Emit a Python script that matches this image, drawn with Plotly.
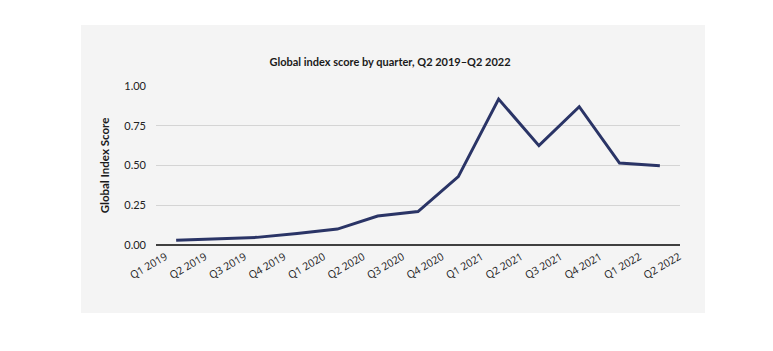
import plotly.graph_objects as go

quarters = ["Q1 2019", "Q2 2019", "Q3 2019", "Q4 2019", "Q1 2020", "Q2 2020", "Q3 2020",
            "Q4 2020", "Q1 2021", "Q2 2021", "Q3 2021", "Q4 2021", "Q1 2022", "Q2 2022"]
scores = [0.03, 0.04, 0.048, 0.073, 0.10, 0.182, 0.21, 0.43, 0.918, 0.625, 0.87, 0.515, 0.498]
y_ticks = [0.0, 0.25, 0.5, 0.75, 1.0]
title_text = "<b>Global index score by quarter, Q2 2019\u2013Q2 2022</b>"
y_title = "<b>Global Index Score</b>"

W, H = 773, 351
fig = go.Figure()
fig.add_trace(go.Scatter(
    x=list(range(len(scores))), y=scores, mode="lines",
    line=dict(color="#2a3466", width=3), xaxis="x", yaxis="y",
    showlegend=False, hoverinfo="skip"))
# invisible trace to bind the label axis
fig.add_trace(go.Scatter(x=[0], y=[None], xaxis="x2", yaxis="y", showlegend=False,
                         mode="lines", hoverinfo="skip"))

fig.add_shape(type="rect", xref="paper", yref="paper",
              x0=(81 - 156) / (W - 156 - 93), x1=(705 - 156) / (W - 156 - 93),
              y0=(351 - 106 - 313) / (351 - 86 - 106), y1=(351 - 106 - 25) / (351 - 86 - 106),
              fillcolor="#f4f4f4", line=dict(width=0), layer="below")

fig.update_layout(
    width=W, height=H,
    margin=dict(l=156, r=93, t=86, b=106),
    paper_bgcolor="white", plot_bgcolor="rgba(0,0,0,0)",
    title=dict(text=title_text, x=(390) / W, xanchor="center", y=1 - 62 / H, yanchor="middle",
               xref="container", yref="container",
               font=dict(family="Lato", size=11, color="#1a1a1a")),
    xaxis=dict(range=[-0.5, len(scores) - 0.5], showticklabels=False, showgrid=False,
               zeroline=False, showline=False, ticks=""),
    xaxis2=dict(overlaying="x", anchor="y", side="bottom",
                range=[-0.24, -0.24 + 524 / 39.5],
                tickmode="array", tickvals=list(range(len(quarters))), ticktext=quarters,
                tickangle=-30, showgrid=False, zeroline=False, showline=False, ticks="",
                ticklabelstandoff=3,
                tickfont=dict(family="Open Sans", size=10.5, color="#1a1a1a")),
    yaxis=dict(range=[0, 1.0], tickvals=y_ticks, tickformat=".2f",
               showgrid=True, gridcolor="#d4d4d4", gridwidth=1,
               zeroline=True, zerolinecolor="#404040", zerolinewidth=1.5,
               showline=False, ticks="", ticklabelstandoff=9,
               tickfont=dict(family="Lato", size=11, color="#222"),
               title=dict(text=y_title, standoff=12,
                          font=dict(family="Lato", size=11.5, color="#1a1a1a"))),
)
fig.write_html("out.html")
